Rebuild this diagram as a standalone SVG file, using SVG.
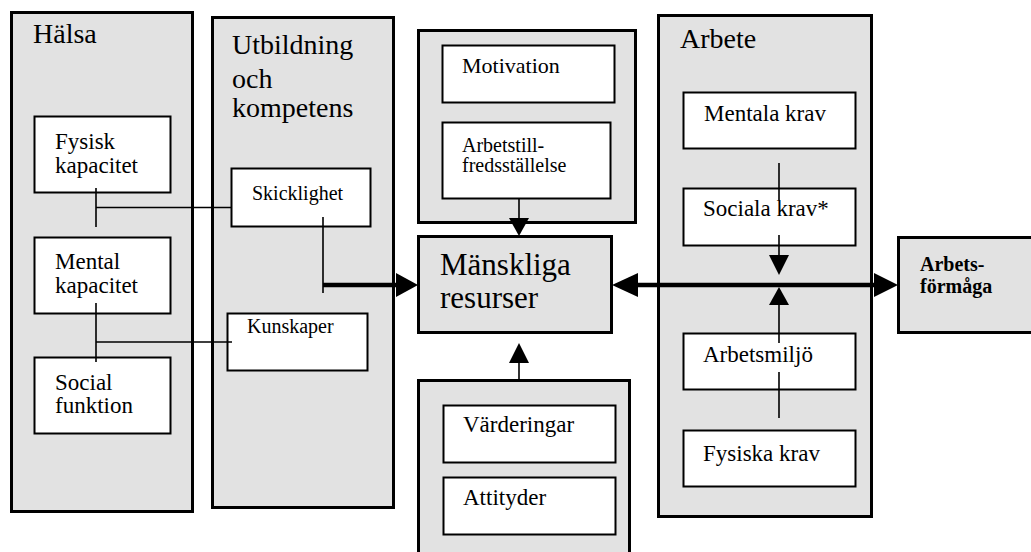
<svg xmlns="http://www.w3.org/2000/svg" width="1031" height="552" viewBox="0 0 1031 552">
<style>
.panel{fill:#e2e2e2;stroke:#000;stroke-width:3}
.box{fill:#fff;stroke:#000;stroke-width:2}
.t{font-family:'Liberation Serif','DejaVu Serif',serif;fill:#000}
.h{font-size:28px}
.m{font-size:23px}
.s{font-size:20px}
.b{font-weight:bold;font-size:20px}
.thin{stroke:#000;stroke-width:1.6;fill:none}
.thick{stroke:#000;stroke-width:4.5;fill:none}
.head{fill:#000;stroke:none}
</style>
<rect width="1031" height="552" fill="#fff"/>
<g font-family="Liberation Serif, DejaVu Serif, serif">
<g id="halsa">
<rect class="panel" x="11.5" y="12.5" width="181" height="499"/>
<text class="t h" x="33" y="43">Hälsa</text>
</g>
<g id="fysisk-kapacitet">
<rect class="box" x="34.5" y="116.5" width="136" height="76"/>
<text class="t m" x="55" y="149">Fysisk</text>
<text class="t m" x="55" y="173">kapacitet</text>
</g>
<g id="mental-kapacitet">
<rect class="box" x="34.5" y="237.5" width="136" height="76"/>
<text class="t m" x="55" y="269">Mental</text>
<text class="t m" x="55" y="293">kapacitet</text>
</g>
<g id="social-funktion">
<rect class="box" x="34.5" y="357.5" width="136" height="76"/>
<text class="t m" x="55" y="390">Social</text>
<text class="t m" x="55" y="413">funktion</text>
</g>

<g id="utbildning">
<rect class="panel" x="212.5" y="17.5" width="181" height="490"/>
<text class="t h" x="232" y="54">Utbildning</text>
<text class="t h" x="232" y="88">och</text>
<text class="t h" x="232" y="117">kompetens</text>
</g>
<g id="skicklighet">
<rect class="box" x="231.5" y="168.5" width="139" height="58"/>
<text class="t s" x="252" y="200">Skicklighet</text>
</g>
<g id="kunskaper">
<rect class="box" x="227.5" y="313.5" width="140" height="57"/>
<text class="t s" x="247" y="333">Kunskaper</text>
</g>

<g id="motivation-panel">
<rect class="panel" x="418.5" y="30.5" width="217" height="192"/>
</g>
<g id="motivation">
<rect class="box" x="442.5" y="45.5" width="172" height="57"/>
<text class="t" font-size="22" x="462" y="73">Motivation</text>
</g>
<g id="arbetstillfredsstallelse">
<rect class="box" x="442.5" y="122.5" width="168" height="76"/>
<text class="t s" x="462" y="152">Arbetstill-</text>
<text class="t s" x="462" y="172">fredsställelse</text>
</g>

<g id="manskliga-resurser">
<rect class="panel" x="418.5" y="236.5" width="193" height="96"/>
<text class="t" font-size="31" x="440" y="275">Mänskliga</text>
<text class="t" font-size="31" x="440" y="308">resurser</text>
</g>

<g id="varderingar-panel">
<rect class="panel" x="418.5" y="380.5" width="211" height="200"/>
</g>
<g id="varderingar">
<rect class="box" x="443.5" y="405.5" width="172" height="57"/>
<text class="t m" x="463" y="432">Värderingar</text>
</g>
<g id="attityder">
<rect class="box" x="443.5" y="477.5" width="172" height="57"/>
<text class="t m" x="463" y="505">Attityder</text>
</g>

<g id="arbete">
<rect class="panel" x="658.5" y="15.5" width="213" height="501"/>
<text class="t h" x="680" y="48">Arbete</text>
</g>
<g id="mentala-krav">
<rect class="box" x="683.5" y="92.5" width="172" height="56"/>
<text class="t m" x="704" y="121">Mentala krav</text>
</g>
<g id="sociala-krav">
<rect class="box" x="683.5" y="188.5" width="172" height="57"/>
<text class="t m" x="703" y="216">Sociala krav*</text>
</g>
<g id="arbetsmiljo">
<rect class="box" x="683.5" y="333.5" width="172" height="56"/>
<text class="t m" x="703" y="362">Arbetsmiljö</text>
</g>
<g id="fysiska-krav">
<rect class="box" x="683.5" y="430.5" width="172" height="56"/>
<text class="t m" x="703" y="461">Fysiska krav</text>
</g>

<g id="arbetsformaga">
<rect class="panel" x="898.5" y="237.5" width="140" height="95"/>
<text class="t b" x="920" y="271">Arbets-</text>
<text class="t b" x="920" y="293">förmåga</text>
</g>
</g>
<g id="connectors">
<path class="thin" d="M96 188V227M96 207.5H231"/>
<path class="thin" d="M96 303V362M96 342H232"/>
<path class="thin" d="M323 217V293"/>
<path class="thick" d="M323 285H398"/>
<polygon class="head" points="396,273 418,285 396,297"/>
<path class="thin" d="M519 199V219"/>
<polygon class="head" points="509,218 529,218 519,236"/>
<path class="thin" d="M519 381V362"/>
<polygon class="head" points="509,363 529,363 519,343"/>
<path class="thick" d="M636 285H876"/>
<polygon class="head" points="612,285 638,273 638,297"/>
<polygon class="head" points="874,273 898,285 874,297"/>
<path class="thin" d="M779 163V200"/>
<path class="thin" d="M779 235V256"/>
<polygon class="head" points="769,255 789,255 779,275"/>
<polygon class="head" points="769,305 789,305 779,287"/>
<path class="thin" d="M779 304V343"/>
<path class="thin" d="M779 372V418"/>
</g>
</svg>
